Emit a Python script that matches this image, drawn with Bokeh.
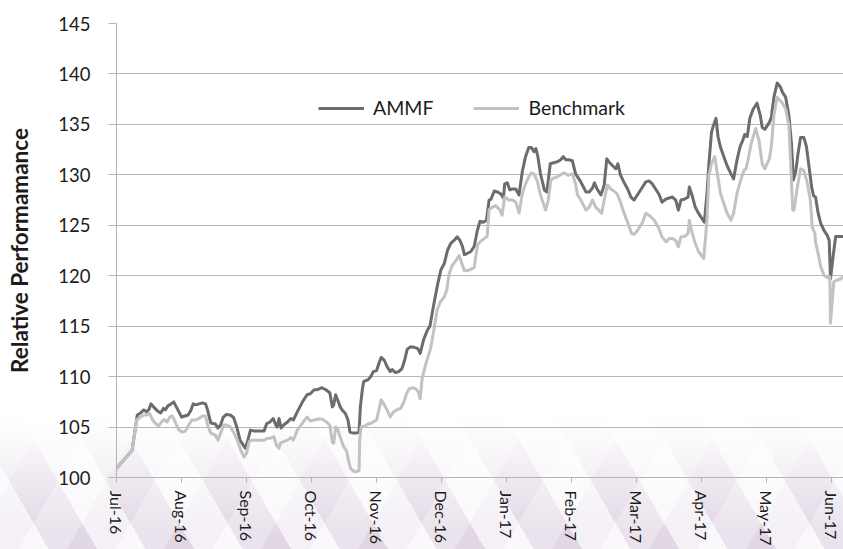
from bokeh.plotting import figure
from bokeh.models import FixedTicker, Legend, LegendItem, ColumnDataSource, Range1d
from bokeh.embed import file_html
from bokeh.resources import INLINE

# Month labels on the time axis (t = months since start of Jul-16)
month_labels = ["Jul-16", "Aug-16", "Sep-16", "Oct-16", "Nov-16", "Dec-16",
                "Jan-17", "Feb-17", "Mar-17", "Apr-17", "May-17", "Jun-17"]
y_ticks = [100, 105, 110, 115, 120, 125, 130, 135, 140, 145]

# AMMF relative performance: (t, value)
ammf = [
    (0.00, 100.9), (0.24, 102.7), (0.32, 106.2), (0.37, 106.4), (0.42, 106.7),
    (0.46, 106.5), (0.50, 106.75), (0.53, 107.3), (0.57, 107.0), (0.63, 106.6),
    (0.68, 106.4), (0.72, 106.85), (0.75, 106.7), (0.79, 107.1), (0.83, 107.25),
    (0.88, 107.5), (0.92, 107.0), (0.96, 106.5), (1.00, 106.0), (1.05, 106.1),
    (1.10, 106.2), (1.14, 106.6), (1.18, 107.3), (1.22, 107.2), (1.27, 107.3),
    (1.32, 107.4), (1.37, 107.3), (1.40, 106.7), (1.45, 105.4), (1.52, 105.3),
    (1.56, 104.9), (1.60, 105.2), (1.64, 105.95), (1.69, 106.25), (1.75, 106.2),
    (1.80, 105.95), (1.85, 105.0), (1.90, 103.7), (1.95, 103.2), (1.98, 102.9),
    (2.02, 103.7), (2.06, 104.7), (2.12, 104.6), (2.19, 104.6), (2.27, 104.6),
    (2.31, 105.35), (2.36, 105.5), (2.41, 105.85), (2.45, 105.2), (2.47, 105.0),
    (2.50, 105.85), (2.53, 104.9), (2.57, 105.2), (2.63, 105.5), (2.68, 105.85),
    (2.72, 105.7), (2.78, 106.5), (2.86, 107.5), (2.93, 108.2), (2.98, 108.3),
    (3.04, 108.7), (3.09, 108.7), (3.16, 108.9), (3.22, 108.7), (3.28, 108.4),
    (3.32, 107.0), (3.34, 107.2), (3.37, 108.2), (3.40, 107.7), (3.44, 107.0),
    (3.47, 106.7), (3.52, 106.35), (3.56, 105.7), (3.59, 104.5), (3.64, 104.4),
    (3.69, 104.4), (3.73, 104.5), (3.75, 107.0), (3.78, 108.7), (3.80, 109.5),
    (3.87, 109.7), (3.91, 110.0), (3.95, 110.5), (4.00, 110.6), (4.04, 111.4),
    (4.07, 111.9), (4.12, 111.6), (4.16, 111.0), (4.21, 110.5), (4.24, 110.7),
    (4.29, 110.4), (4.34, 110.5), (4.39, 110.8), (4.43, 111.6), (4.47, 112.7),
    (4.52, 112.95), (4.58, 112.9), (4.63, 112.8), (4.67, 112.3), (4.72, 113.6),
    (4.78, 114.6), (4.82, 115.0), (4.88, 117.2), (4.94, 119.2), (4.99, 120.6),
    (5.04, 121.2), (5.09, 122.5), (5.14, 123.2), (5.19, 123.5), (5.24, 123.85),
    (5.28, 123.5), (5.32, 122.9), (5.35, 122.1), (5.39, 122.2), (5.45, 122.4),
    (5.50, 122.9), (5.55, 124.5), (5.59, 125.4), (5.64, 125.3), (5.69, 125.5),
    (5.73, 127.5), (5.76, 127.6), (5.81, 128.4), (5.86, 128.3), (5.91, 128.1),
    (5.95, 127.7), (5.97, 129.1), (6.01, 129.2), (6.05, 128.5), (6.09, 128.6),
    (6.14, 128.6), (6.19, 128.0), (6.24, 130.3), (6.29, 131.8), (6.34, 132.7),
    (6.38, 132.7), (6.42, 132.3), (6.45, 132.6), (6.48, 131.8), (6.52, 130.1),
    (6.58, 128.5), (6.62, 128.3), (6.67, 131.1), (6.72, 131.2), (6.78, 131.3),
    (6.83, 131.5), (6.87, 131.8), (6.91, 131.5), (6.96, 131.5), (7.01, 131.4),
    (7.06, 130.1), (7.14, 129.3), (7.22, 128.3), (7.27, 128.3), (7.32, 128.7),
    (7.35, 129.2), (7.39, 128.6), (7.45, 128.0), (7.50, 129.0), (7.54, 131.6),
    (7.57, 131.3), (7.63, 130.9), (7.68, 130.6), (7.71, 131.1), (7.75, 130.0),
    (7.80, 129.3), (7.86, 128.6), (7.91, 127.8), (7.96, 127.5), (8.01, 128.0),
    (8.06, 128.5), (8.14, 129.3), (8.19, 129.4), (8.24, 129.1), (8.29, 128.6),
    (8.34, 128.1), (8.39, 127.3), (8.45, 127.6), (8.50, 127.7), (8.55, 127.8),
    (8.60, 127.5), (8.64, 126.5), (8.68, 127.5), (8.74, 127.6), (8.79, 127.8),
    (8.81, 128.8), (8.85, 128.0), (8.90, 126.8), (8.95, 126.2), (9.00, 125.7),
    (9.04, 125.3), (9.08, 128.1), (9.11, 131.1), (9.15, 134.2), (9.18, 134.9),
    (9.22, 135.6), (9.25, 133.8), (9.29, 132.7), (9.34, 131.8), (9.39, 130.9),
    (9.45, 130.1), (9.49, 129.6), (9.54, 131.4), (9.59, 132.8), (9.63, 133.4),
    (9.66, 134.0), (9.70, 133.8), (9.74, 135.6), (9.79, 136.5), (9.85, 137.1),
    (9.90, 135.9), (9.93, 134.7), (9.97, 134.5), (10.04, 135.2), (10.07, 135.7),
    (10.11, 137.7), (10.16, 139.1), (10.21, 138.7), (10.24, 138.2), (10.29, 137.7),
    (10.34, 135.9), (10.38, 133.1), (10.41, 129.5), (10.45, 130.5), (10.48, 132.1),
    (10.52, 133.7), (10.57, 133.7), (10.61, 132.8), (10.65, 130.8), (10.69, 128.8),
    (10.72, 127.9), (10.75, 127.8), (10.79, 126.2), (10.83, 125.2), (10.88, 124.5),
    (10.93, 124.0), (10.96, 123.5), (10.98, 119.7), (11.02, 121.9), (11.06, 123.9),
    (11.11, 123.9), (11.18, 123.9),
]

# Benchmark relative performance: (t, value)
benchmark = [
    (0.00, 100.9), (0.24, 102.7), (0.31, 105.7), (0.37, 106.0), (0.42, 106.2),
    (0.47, 106.2), (0.51, 106.35), (0.55, 105.75), (0.60, 105.35), (0.65, 105.1),
    (0.69, 105.5), (0.73, 105.75), (0.78, 105.5), (0.82, 106.0), (0.86, 106.1),
    (0.91, 105.4), (0.96, 104.7), (1.01, 104.5), (1.06, 104.6), (1.11, 105.2),
    (1.16, 105.7), (1.22, 105.7), (1.27, 105.85), (1.32, 106.1), (1.37, 106.1),
    (1.40, 105.2), (1.45, 104.4), (1.52, 104.2), (1.56, 103.7), (1.60, 104.4),
    (1.65, 105.2), (1.70, 105.2), (1.75, 105.0), (1.80, 104.5), (1.86, 103.7),
    (1.91, 102.7), (1.96, 102.05), (2.00, 102.4), (2.04, 103.55), (2.09, 103.7),
    (2.16, 103.7), (2.27, 103.7), (2.32, 103.9), (2.37, 103.9), (2.42, 104.05),
    (2.46, 103.2), (2.50, 102.9), (2.52, 103.4), (2.57, 103.55), (2.63, 103.7),
    (2.68, 103.95), (2.72, 103.7), (2.78, 104.7), (2.86, 105.4), (2.93, 106.0),
    (2.98, 105.6), (3.04, 105.7), (3.11, 105.8), (3.16, 105.8), (3.23, 105.5),
    (3.28, 105.2), (3.32, 103.5), (3.34, 103.4), (3.37, 105.0), (3.40, 104.8),
    (3.44, 104.0), (3.49, 103.1), (3.54, 102.6), (3.57, 101.6), (3.60, 100.9),
    (3.65, 100.6), (3.70, 100.6), (3.73, 100.7), (3.74, 103.7), (3.76, 105.0),
    (3.82, 105.1), (3.87, 105.3), (3.92, 105.4), (4.00, 105.7), (4.04, 106.85),
    (4.07, 107.7), (4.11, 107.3), (4.16, 106.7), (4.21, 106.0), (4.26, 106.5),
    (4.32, 106.75), (4.37, 106.85), (4.42, 107.5), (4.46, 108.3), (4.50, 108.8),
    (4.55, 108.9), (4.60, 108.8), (4.64, 108.5), (4.67, 107.8), (4.70, 109.8),
    (4.75, 111.1), (4.83, 112.8), (4.88, 114.6), (4.93, 116.6), (4.98, 117.4),
    (5.04, 117.9), (5.08, 118.6), (5.11, 120.05), (5.16, 121.0), (5.22, 121.5),
    (5.27, 122.0), (5.30, 121.4), (5.35, 120.5), (5.42, 120.55), (5.50, 120.8),
    (5.55, 123.0), (5.59, 123.35), (5.64, 123.6), (5.70, 123.9), (5.73, 126.55),
    (5.78, 126.8), (5.83, 126.95), (5.90, 126.5), (5.93, 126.0), (5.97, 127.8),
    (6.04, 127.5), (6.09, 127.5), (6.14, 127.3), (6.19, 126.2), (6.24, 128.1),
    (6.29, 129.1), (6.34, 129.8), (6.38, 130.2), (6.42, 130.1), (6.47, 129.4),
    (6.52, 128.0), (6.60, 126.5), (6.64, 127.5), (6.68, 129.5), (6.73, 129.7),
    (6.78, 129.8), (6.84, 130.05), (6.89, 130.2), (6.94, 129.95), (7.01, 130.1),
    (7.06, 129.1), (7.09, 128.0), (7.14, 127.5), (7.22, 126.5), (7.27, 126.8),
    (7.32, 127.5), (7.37, 126.8), (7.46, 126.2), (7.51, 127.8), (7.55, 129.0),
    (7.60, 128.6), (7.65, 128.4), (7.70, 128.1), (7.75, 127.3), (7.80, 126.3),
    (7.86, 125.3), (7.92, 124.2), (7.96, 124.1), (8.01, 124.45), (8.09, 125.3),
    (8.14, 126.2), (8.19, 126.0), (8.27, 125.5), (8.34, 124.7), (8.39, 123.85),
    (8.45, 123.35), (8.50, 123.7), (8.55, 123.7), (8.60, 123.5), (8.64, 122.86),
    (8.68, 123.85), (8.74, 123.9), (8.79, 124.2), (8.81, 125.5), (8.85, 124.3),
    (8.90, 123.2), (8.95, 122.4), (9.03, 121.7), (9.08, 125.5), (9.11, 129.95),
    (9.15, 131.1), (9.20, 131.8), (9.24, 130.1), (9.29, 128.1), (9.34, 127.15),
    (9.39, 126.2), (9.45, 125.5), (9.49, 126.2), (9.54, 128.1), (9.60, 129.5),
    (9.65, 130.45), (9.68, 130.6), (9.71, 131.4), (9.76, 133.1), (9.83, 134.6),
    (9.88, 133.4), (9.93, 131.1), (9.97, 130.6), (10.04, 131.6), (10.07, 132.8),
    (10.11, 135.9), (10.16, 137.7), (10.23, 137.2), (10.29, 136.55), (10.34, 134.9),
    (10.40, 126.5), (10.42, 126.5), (10.47, 128.8), (10.52, 130.6), (10.57, 130.45),
    (10.62, 129.3), (10.67, 127.5), (10.70, 124.8), (10.74, 124.2), (10.75, 123.35),
    (10.79, 122.2), (10.83, 120.9), (10.88, 120.05), (10.93, 119.8), (10.97, 119.9),
    (10.98, 115.3), (11.03, 119.4), (11.08, 119.55), (11.14, 119.7), (11.18, 119.9),
]

FONT = "Lato"
TEXT = "#1c1c1c"

p = figure(
    width=843, height=549,
    output_backend="svg", toolbar_location=None,
    x_range=Range1d(0, 11.18), y_range=Range1d(100, 145),
    min_border_left=116, min_border_right=0,
    min_border_top=23, min_border_bottom=72,
)
p.background_fill_alpha = 0
p.border_fill_alpha = 0
p.outline_line_color = None

# soft lavender faceted backdrop fading in towards the bottom of the page
p.styles = {
    "background": (
        "linear-gradient(to bottom, #ffffff 0%, #ffffff 76%, rgba(255,255,255,0.55) 86%, rgba(255,255,255,0.05) 97%), "
        "repeating-linear-gradient(60deg, rgba(255,255,255,0.55) 0px, rgba(255,255,255,0.55) 42px, "
        "rgba(206,190,212,0.28) 42px, rgba(206,190,212,0.28) 84px), "
        "repeating-linear-gradient(-60deg, rgba(255,255,255,0.4) 0px, rgba(255,255,255,0.4) 42px, "
        "rgba(214,200,220,0.25) 42px, rgba(214,200,220,0.25) 84px), "
        "#ece5ee"
    )
}

src_a = ColumnDataSource(dict(t=[a for a, _ in ammf], v=[b for _, b in ammf]))
src_b = ColumnDataSource(dict(t=[a for a, _ in benchmark], v=[b for _, b in benchmark]))

r_a = p.line("t", "v", source=src_a, line_color="#6c6c6c", line_width=3, line_join="round")
r_b = p.line("t", "v", source=src_b, line_color="#c2c2c2", line_width=3, line_join="round")

# axes
p.xaxis.ticker = FixedTicker(ticks=list(range(len(month_labels))), minor_ticks=[])
p.xaxis.major_label_overrides = {i: lab for i, lab in enumerate(month_labels)}
p.xaxis.major_label_orientation = "vertical"
p.xaxis.major_label_text_font = FONT
p.xaxis.major_label_text_font_size = "16px"
p.xaxis.major_label_text_color = TEXT
p.xaxis.major_label_standoff = 8
p.xaxis.major_tick_in = 0
p.xaxis.major_tick_out = 5
p.xaxis.minor_tick_line_color = None
p.xaxis.axis_line_color = "#b4b4b4"
p.xaxis.major_tick_line_color = "#b4b4b4"

p.yaxis.ticker = FixedTicker(ticks=y_ticks, minor_ticks=[])
p.yaxis.major_label_text_font = FONT
p.yaxis.major_label_text_font_size = "18.5px"
p.yaxis.major_label_text_color = TEXT
p.yaxis.major_label_standoff = 18
p.yaxis.major_tick_in = 0
p.yaxis.major_tick_out = 8
p.yaxis.minor_tick_line_color = None
p.yaxis.axis_line_color = "#b4b4b4"
p.yaxis.major_tick_line_color = "#b4b4b4"
p.yaxis.axis_label = "Relative Performamance"
p.yaxis.axis_label_text_font = FONT
p.yaxis.axis_label_text_font_style = "bold"
p.yaxis.axis_label_text_font_size = "22.5px"
p.yaxis.axis_label_text_color = TEXT
p.yaxis.axis_label_standoff = 22

p.xgrid.grid_line_color = None
p.ygrid.grid_line_color = "#b8b8b8"
p.ygrid.grid_line_width = 1

legend = Legend(
    items=[LegendItem(label="AMMF", renderers=[r_a]),
           LegendItem(label="Benchmark", renderers=[r_b])],
    orientation="horizontal", location=(202, 358),
    padding=0, margin=0, spacing=40,
    glyph_width=46, glyph_height=20, label_height=20, label_standoff=9,
    label_text_font=FONT, label_text_font_size="19.5px", label_text_color=TEXT,
    border_line_alpha=0, background_fill_alpha=0,
)
p.add_layout(legend)

open("out.html", "w").write(file_html(p, INLINE))
